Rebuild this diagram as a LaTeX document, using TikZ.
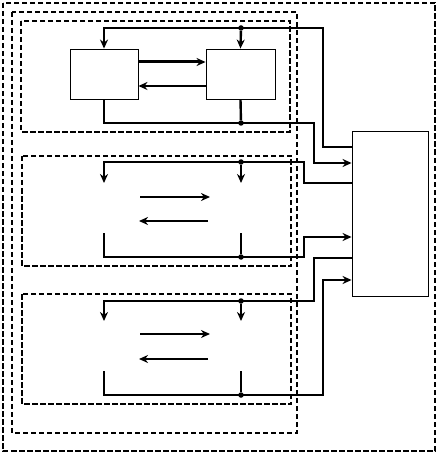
\documentclass[tikz,border=0pt]{standalone}
\usepackage{tikz}
\usetikzlibrary{arrows.meta}

\begin{document}
\begin{tikzpicture}[x=1pt, y=-1pt,
	block/.style={rectangle, draw, line width=0.9pt, minimum width=68pt, minimum height=50pt, inner sep=0pt},
	wire/.style={line width=2.4pt},
	arr/.style={wire, -{Stealth[length=9pt, width=8pt]}},
	frame/.style={draw, line width=2pt, dash pattern=on 5.5pt off 2.5pt},
	thinframe/.style={draw, line width=1.4pt, dash pattern=on 5pt off 3pt},
	dot/.style={circle, fill, inner sep=0pt, minimum size=5.5pt}
	]
	\useasboundingbox (0,0) rectangle (438,454);

	% frames
	\draw[frame] (3,3) rectangle (435,451);
	\draw[thinframe] (12,12) rectangle (297,433);
	\draw[frame] (21,21) rectangle (290,132);
	\draw[frame] (22,156) rectangle (291,266);
	\draw[frame] (22,294) rectangle (291,404);

	% blocks
	\node[block] (boxA) at (104,74) {};
	\node[block, minimum width=69pt] (boxB) at (240.5,74) {};
	\node[block, minimum width=76pt, minimum height=165pt] (ctrl) at (390,213.5) {};

	% first unit
	\node[dot] (d1t) at (241,28) {};
	\node[dot] (d1b) at (241,123) {};
	\draw[arr] (ctrl.west |- 0,147) -| (323,28) -| (boxA.north);
	\draw[arr] (boxA.south) |- (314,123) |- (ctrl.west |- 0,163);
	\draw[arr] (d1t) -- (boxB.north);
	\draw[wire] (boxB.south) -- (d1b);
	\draw[arr, line width=3pt] (boxA.east |- 0,62) -- (boxB.west |- 0,62);
	\draw[arr] (boxB.west |- 0,86) -- (boxA.east |- 0,86);

	% second unit
	\node[dot] (d2t) at (241,162) {};
	\node[dot] (d2b) at (241,257) {};
	\coordinate (in2a) at (104,183);
	\coordinate (in2b) at (241,183);
	\coordinate (out2a) at (104,233);
	\coordinate (out2b) at (241,233);
	\coordinate (r2a) at (140,197);
	\coordinate (r2b) at (210,197);
	\coordinate (l2a) at (208,221);
	\coordinate (l2b) at (139,221);
	\draw[arr] (ctrl.west |- 0,183) -| (304,162) -| (in2a);
	\draw[arr] (out2a) |- (304,257) |- (ctrl.west |- 0,237);
	\draw[arr] (d2t) -- (in2b);
	\draw[wire] (out2b) -- (d2b);
	\draw[arr] (r2a) -- (r2b);
	\draw[arr] (l2a) -- (l2b);

	% third unit
	\node[dot] (d3t) at (241,301) {};
	\node[dot] (d3b) at (241,395) {};
	\coordinate (in3a) at (104,321);
	\coordinate (in3b) at (241,321);
	\coordinate (out3a) at (104,371);
	\coordinate (out3b) at (241,371);
	\coordinate (r3a) at (140,334);
	\coordinate (r3b) at (210,334);
	\coordinate (l3a) at (208,359);
	\coordinate (l3b) at (139,359);
	\draw[arr] (ctrl.west |- 0,258) -| (314,301) -| (in3a);
	\draw[arr] (out3a) |- (323,395) |- (ctrl.west |- 0,280);
	\draw[arr] (d3t) -- (in3b);
	\draw[wire] (out3b) -- (d3b);
	\draw[arr] (r3a) -- (r3b);
	\draw[arr] (l3a) -- (l3b);
\end{tikzpicture}
\end{document}
